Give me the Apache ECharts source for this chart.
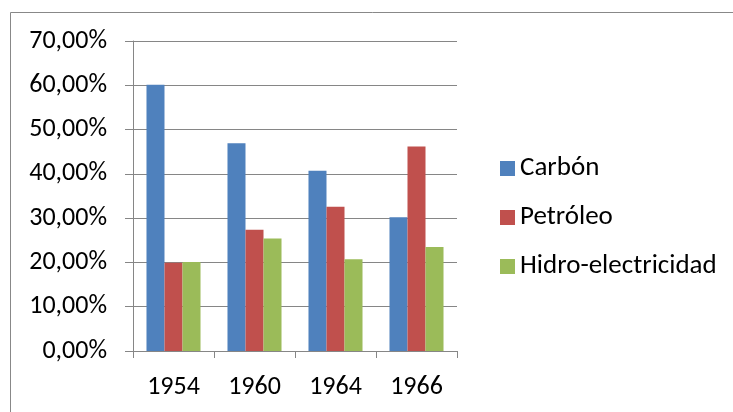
<!DOCTYPE html>
<html>
<head>
<meta charset="utf-8">
<script src="https://cdn.jsdelivr.net/npm/echarts@6/dist/echarts.min.js"></script>
<style>
html,body{margin:0;padding:0;background:#fff;}
#chart{width:733px;height:412px;}
</style>
</head>
<body>
<div id="chart"></div>
<script>
const categories = ['1954', '1960', '1964', '1966'];
const seriesNames = ['Carbón', 'Petróleo', 'Hidro-electricidad'];
const carbon = [60.1, 46.9, 40.7, 30.2];
const petroleo = [19.9, 27.4, 32.6, 46.2];
const hidro = [20.1, 25.4, 20.7, 23.5];
const yTicks = [0, 10, 20, 30, 40, 50, 60, 70];

const colors = ['#4F81BD', '#C0504D', '#9BBB59'];
const FONT = 'Carlito, "Liberation Sans", sans-serif';
const chart = echarts.init(document.getElementById('chart'), null, {renderer: 'canvas'});
const values = [carbon, petroleo, hidro];
chart.setOption({
  animation: false,
  color: colors,
  graphic: [{
    type: 'rect',
    shape: {x: 10.5, y: 12.5, width: 800, height: 500},
    style: {fill: 'none', stroke: '#888', lineWidth: 1},
    silent: true
  }],
  grid: {left: 133, right: 276, top: 41, bottom: 61},
  legend: {
    orient: 'vertical',
    left: 500,
    top: 155,
    padding: 0,
    itemWidth: 15,
    itemHeight: 15,
    itemGap: 22,
    icon: 'rect',
    textStyle: {fontFamily: FONT, fontSize: 27, color: '#000', lineHeight: 26},
    data: seriesNames
  },
  xAxis: {
    type: 'category',
    data: categories,
    axisLine: {lineStyle: {color: '#868686', width: 1}},
    axisTick: {show: true, length: 7, lineStyle: {color: '#868686'}},
    axisLabel: {fontFamily: FONT, fontSize: 26, color: '#000', margin: 23}
  },
  yAxis: {
    type: 'value',
    min: yTicks[0],
    max: yTicks[yTicks.length - 1],
    interval: 10,
    axisLine: {show: true, lineStyle: {color: '#868686', width: 1}},
    axisTick: {show: true, length: 8, lineStyle: {color: '#868686'}},
    splitLine: {lineStyle: {color: '#868686', width: 1}},
    axisLabel: {
      fontFamily: FONT, fontSize: 26, color: '#000', margin: 26,
      formatter: v => v.toFixed(2).replace('.', ',') + '%'
    }
  },
  series: seriesNames.map((n, i) => ({
    name: n,
    type: 'bar',
    data: values[i],
    barGap: '0%',
    barCategoryGap: '33.3%',
    itemStyle: {color: colors[i]}
  }))
});
</script>
</body>
</html>
